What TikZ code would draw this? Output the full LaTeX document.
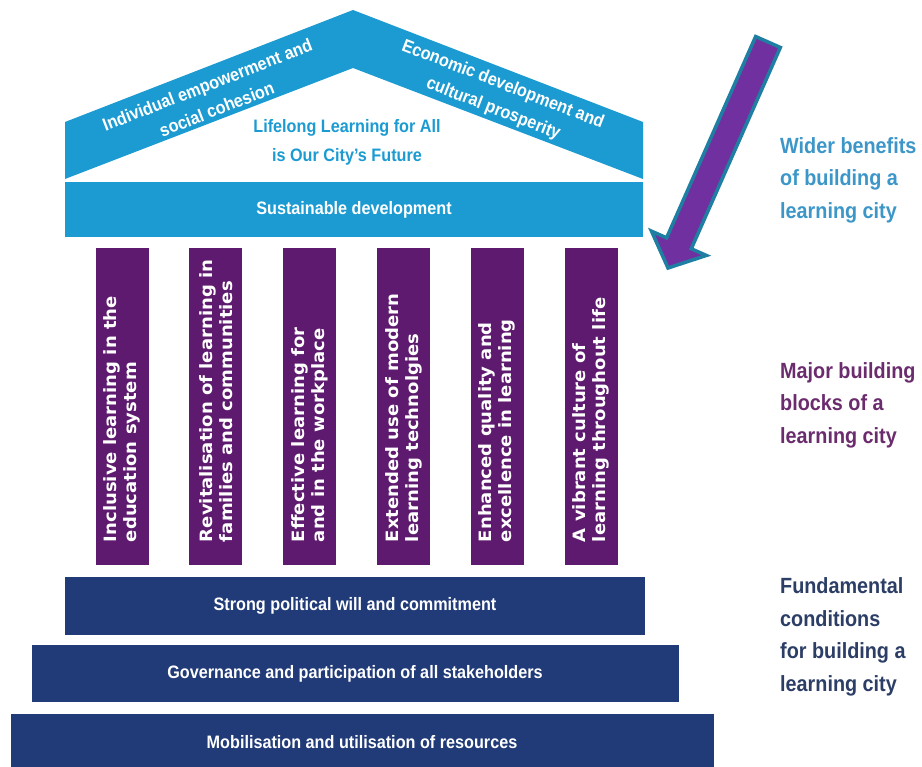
\documentclass[tikz,border=0pt]{standalone}
\usepackage{fontspec}
\setmainfont{Liberation Sans}
\newfontfamily\condfont[FakeStretch=0.9]{Liberation Sans}
\newfontfamily\widefont[FakeStretch=1.06]{DejaVu Sans}
\usepackage{tikz}
\usetikzlibrary{calc,positioning}
\definecolor{roofblue}{HTML}{1B9BD1}
\definecolor{pillarpurple}{HTML}{5E1A6F}
\definecolor{stepnavy}{HTML}{213B78}
\definecolor{textblue}{HTML}{3C96C8}
\definecolor{textpurple}{HTML}{6B2C6E}
\definecolor{textnavy}{HTML}{2C3E66}
\definecolor{arrowfill}{HTML}{7030A0}
\definecolor{arrowedge}{HTML}{1F7FA3}
\tikzset{
  band/.style={fill=roofblue, text=white, inner sep=0pt, font=\condfont\bfseries\fontsize{18}{20}\selectfont},
  rooftext/.style={text=white, align=center, inner sep=0pt, font=\condfont\bfseries\fontsize{18}{26}\selectfont},
  mottotext/.style={rooftext, text=roofblue, font=\condfont\bfseries\fontsize{18}{29}\selectfont},
  pillar/.style={fill=pillarpurple, minimum width=53pt, minimum height=317pt, inner sep=0pt},
  pillartext/.style={rotate=90, anchor=west, align=left, text=white, inner sep=0pt, font=\widefont\bfseries\fontsize{17}{20}\selectfont},
  stepbox/.style={fill=stepnavy, text=white, inner sep=0pt, font=\condfont\bfseries\fontsize{18}{20}\selectfont},
  sidetext/.style={anchor=west, align=left, inner sep=0pt, font=\condfont\bfseries\fontsize{22}{32.5}\selectfont},
  arrowbody/.style={fill=arrowfill, draw=arrowedge, line width=3.5pt, line join=miter}
}
\begin{document}
\begin{tikzpicture}[x=1pt, y=-1pt]
  \useasboundingbox (0,0) rectangle (922,767);
  % roof
  \fill[roofblue] (65,122) -- (353,10) -- (643,122) -- (643,179) -- (353,68) -- (65,179) -- cycle;
  \node[rooftext, rotate=21.3] (ie) at (212,97) {Individual empowerment and\\social cohesion};
  \node[rooftext, rotate=-21.3] (ed) at (498,97) {Economic development and\\cultural prosperity};
  \node[mottotext] (ll) at (347,142) {Lifelong Learning for All\\is Our City’s Future};
  \node[band, minimum width=578pt, minimum height=55pt] (sd) at (354,209.5) {Sustainable development};
  % pillars
  \foreach \i/\txt in {1/{Inclusive learning in the\\education system},
                      2/{Revitalisation of learning in\\families and communities},
                      3/{Effective learning for\\and in the workplace},
                      4/{Extended use of modern\\learning technolgies},
                      5/{Enhanced quality and\\excellence in learning},
                      6/{A vibrant culture of\\learning throughout life}} {
    \node[pillar] (p\i) at ({122+93.8*(\i-1)},406.5) {};
    \node[pillartext] (t\i) at ([yshift=23pt]p\i.south) {\txt};
  }
  % steps
  \node[stepbox, minimum width=580pt, minimum height=58pt] (s1) at (355,606) {Strong political will and commitment};
  \node[stepbox, minimum width=647pt, minimum height=57pt, below=10pt of s1] (s2) {Governance and participation of all stakeholders};
  \node[stepbox, minimum width=703pt, minimum height=56pt, below=11pt of s2, xshift=7pt] (s3) {Mobilisation and utilisation of resources};
  % side labels
  \node[sidetext, text=textblue] (wb) at (780,180) {Wider benefits\\of building a\\learning city};
  \node[sidetext, text=textpurple] (mb) at (780,405) {Major building\\blocks of a\\learning city};
  \node[sidetext, text=textnavy] (fc) at (780,637) {Fundamental\\conditions\\for building a\\learning city};
  % arrow
  \coordinate (atail) at (768,42);
  \coordinate (atip) at (668,268);
  \coordinate (ahead) at ($(atip)!27pt!(atail)$);
  \filldraw[arrowbody] ($(atail)!13.5pt!90:(atip)$) -- ($(ahead)!13.5pt!90:(atip)$)
    -- ($(ahead)!30pt!90:(atip)$) -- (atip) -- ($(ahead)!30pt!-90:(atip)$)
    -- ($(ahead)!13.5pt!-90:(atip)$) -- ($(atail)!13.5pt!-90:(atip)$) -- cycle;
\end{tikzpicture}
\end{document}
